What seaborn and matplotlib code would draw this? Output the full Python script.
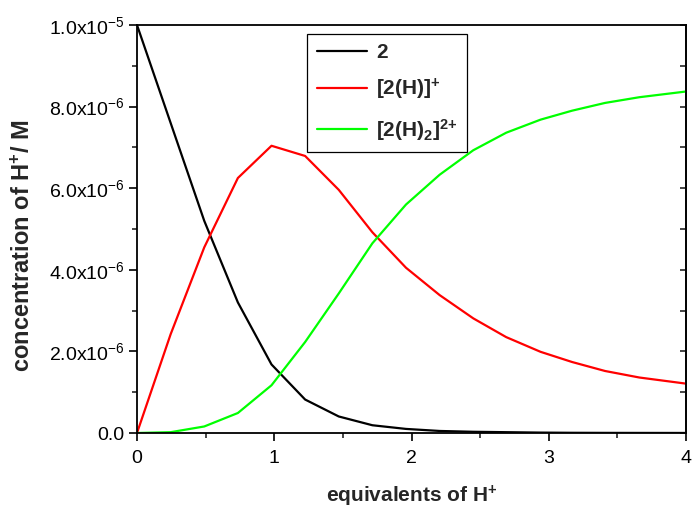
import numpy as np
import pandas as pd
import matplotlib
matplotlib.use("Agg")
import matplotlib.pyplot as plt
import seaborn as sns
from matplotlib.ticker import MultipleLocator, FixedLocator
from matplotlib.lines import Line2D

# ---- data ----
equiv = [0, 0.245, 0.49, 0.735, 0.98, 1.225, 1.47, 1.715, 1.96, 2.205,
         2.45, 2.69, 2.94, 3.17, 3.41, 3.66, 4.0]
species_2 = [10.0, 7.6, 5.2, 3.2, 1.68, 0.82, 0.405, 0.19, 0.10, 0.05,
             0.03, 0.02, 0.01, 0.005, 0.003, 0.002, 0.001]
species_2H = [0.0, 2.42, 4.55, 6.25, 7.04, 6.79, 5.96, 4.92, 4.05, 3.38,
              2.81, 2.35, 1.99, 1.74, 1.52, 1.36, 1.21]
species_2H2 = [0.0, 0.02, 0.16, 0.49, 1.17, 2.23, 3.42, 4.65, 5.60, 6.33,
               6.93, 7.36, 7.68, 7.90, 8.09, 8.23, 8.37]
series_labels = ["2", "[2(H)]$^{+}$", "[2(H)$_{2}$]$^{2{+}}$"]
series_colors = ["#000000", "#ff0000", "#00ff00"]
y_ticks = [0, 2e-6, 4e-6, 6e-6, 8e-6, 1e-5]
y_tick_labels = ["0.0", "2.0x10$^{-6}$", "4.0x10$^{-6}$", "6.0x10$^{-6}$",
                 "8.0x10$^{-6}$", "1.0x10$^{-5}$"]
x_ticks = [0, 1, 2, 3, 4]

rows = []
for lab, vals in zip(series_labels, [species_2, species_2H, species_2H2]):
    for x, v in zip(equiv, vals):
        rows.append({"equiv": x, "conc": v * 1e-6, "species": lab})
df = pd.DataFrame(rows)

sns.set_style("ticks")
plt.rcParams["font.family"] = ["Liberation Sans", "DejaVu Sans"]
plt.rcParams["mathtext.fontset"] = "custom"
plt.rcParams["mathtext.rm"] = "Liberation Sans"
plt.rcParams["mathtext.bf"] = "Liberation Sans:bold"
plt.rcParams["mathtext.default"] = "regular"

fig = plt.figure(figsize=(6.92, 5.09), dpi=100)
ax = fig.add_axes([137 / 692, 1 - 433 / 509, 549 / 692, 408 / 509])

sns.lineplot(data=df, x="equiv", y="conc", hue="species",
             palette=dict(zip(series_labels, series_colors)),
             hue_order=series_labels, linewidth=1.6, ax=ax, legend=False,
             sort=False)

ax.set_xlim(0, 4)
ax.set_ylim(0, 1e-5)
ax.xaxis.set_major_locator(FixedLocator(x_ticks))
ax.set_xticklabels([str(t) for t in x_ticks])
ax.xaxis.set_minor_locator(MultipleLocator(0.5))
ax.yaxis.set_major_locator(FixedLocator(y_ticks))
ax.set_yticklabels(y_tick_labels)
ax.yaxis.set_minor_locator(MultipleLocator(1e-6))

for s in ax.spines.values():
    s.set_visible(True)
    s.set_color("black")
    s.set_linewidth(1.3)

ax.tick_params(axis="both", which="major", direction="out", length=6,
               width=1.2, labelsize=14, colors="black", pad=3)
ax.tick_params(axis="both", which="minor", direction="out", length=3.5,
               width=1.2)
ax.tick_params(axis="x", which="major", pad=6)

sec = ax.secondary_yaxis("right")
sec.yaxis.set_major_locator(MultipleLocator(1e-6))
sec.tick_params(direction="in", length=4, width=1.2, labelright=False)
sec.spines["right"].set_linewidth(1.3)

ax.set_xlabel("equivalents of H$^{+}$", fontsize=15, fontweight="bold",
              labelpad=12)
ax.set_ylabel("concentration of H$^{+}$/ M", fontsize=17,
              fontweight="bold")
ax.yaxis.set_label_coords(-0.187, 0.46)

handles = [Line2D([0], [0], color=c, lw=1.6) for c in series_colors]
leg = ax.legend(handles, series_labels, loc="upper left",
                bbox_to_anchor=(0.31, 0.978), frameon=True, fancybox=False,
                edgecolor="black", framealpha=1, handlelength=2.4,
                borderpad=0.45, labelspacing=0.7, handletextpad=0.45,
                borderaxespad=0,
                prop={"size": 15, "weight": "bold"})
leg.get_frame().set_linewidth(0.9)

fig.savefig("out.png", dpi=100)
